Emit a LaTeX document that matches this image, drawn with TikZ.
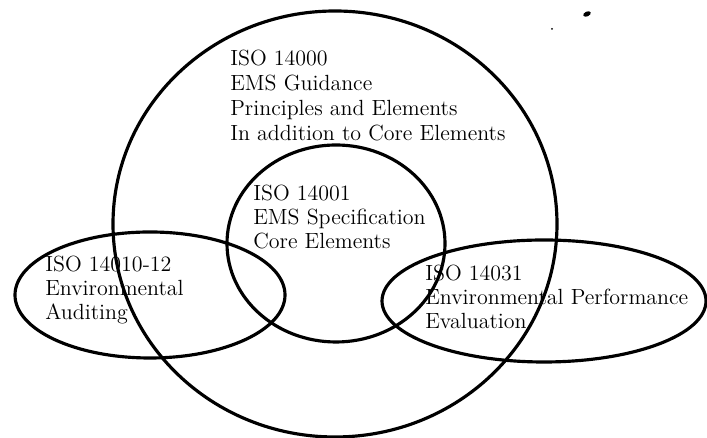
\documentclass[tikz,border=0pt]{standalone}

\begin{document}
\begin{tikzpicture}[x=0.02cm,y=0.02cm,
    ring/.style={line width=1.8pt},
    tag/.style={anchor=north west,align=left,inner sep=0pt,font=\fontsize{12.5}{13.5}\selectfont}]
            \useasboundingbox (0,0) rectangle (707,438);
            % the four sets: 14000, 14001, 14010-12, 14031
            \foreach \cx/\cy/\rx/\ry in {335/214/222/213, 336/194.5/109/98.5, 150/143/135/63, 544/137/162/61}{
                \draw[ring] (\cx,\cy) ellipse [x radius=\rx, y radius=\ry];
            }
            \node[tag,font=\fontsize{12.5}{14.2}\selectfont] (guide) at (230,388) {ISO 14000\\EMS Guidance\\Principles and Elements\\In addition to Core Elements};
            \node[tag] (spec) at (253,253) {ISO 14001\\EMS Specification\\Core Elements};
            \node[tag] (audit) at (45,182) {ISO 14010-12\\Environmental\\Auditing};
            \node[tag] (perf) at (425,173) {ISO 14031\\Environmental Performance\\Evaluation};
            % specks in the corner
            \fill (587,424) ellipse [x radius=4, y radius=2.4, rotate=25];
            \fill (552,409) circle [radius=1];
        \end{tikzpicture}
\end{document}
